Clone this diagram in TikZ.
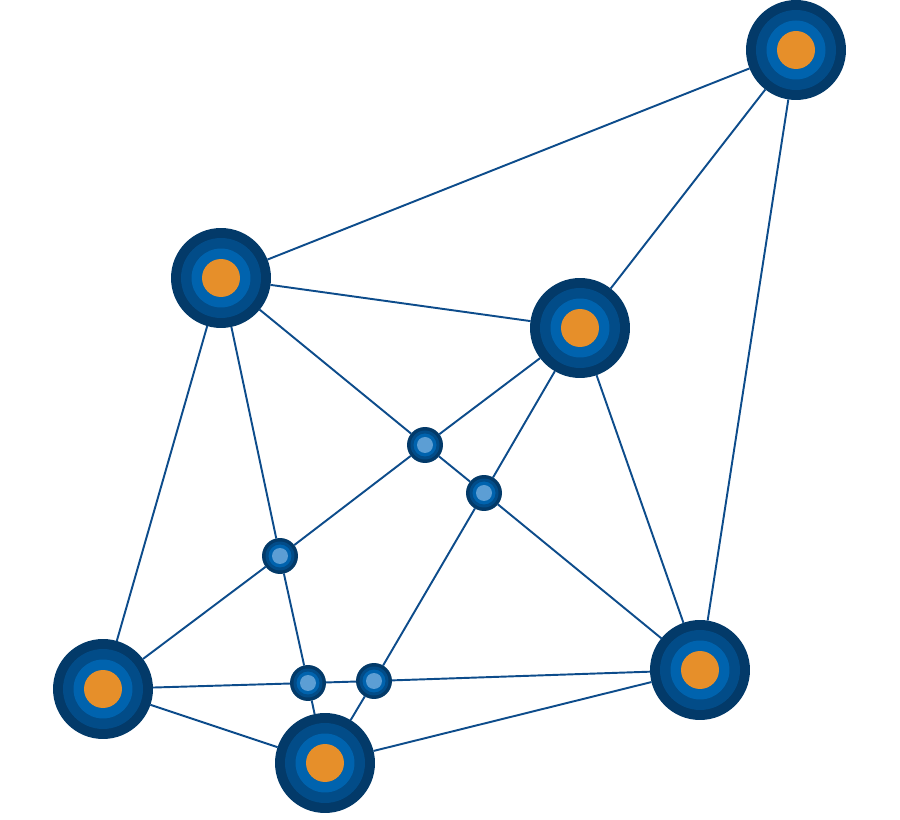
\documentclass[tikz,border=0pt]{standalone}
\usepackage{tikz}

\definecolor{ringA}{HTML}{033A69}
\definecolor{ringB}{HTML}{024C88}
\definecolor{ringC}{HTML}{0063AE}
\definecolor{hubcore}{HTML}{E68F2A}
\definecolor{dotcore}{HTML}{5C9ED4}
\definecolor{linkcol}{HTML}{0D4C8B}

\begin{document}
\begin{tikzpicture}[x=0.02cm, y=-0.02cm]
    \tikzstyle{link} = [linkcol, line width=1.1pt]
    \tikzstyle{hub} = [circle, inner sep=0pt, outer sep=0pt, minimum size=2cm, fill=ringA,
        path picture={
            \fill[ringB] (path picture bounding box.center) circle (0.8cm);
            \fill[ringC] (path picture bounding box.center) circle (0.59cm);
            \fill[hubcore] (path picture bounding box.center) circle (0.38cm);
        }]
    \tikzstyle{dot} = [circle, inner sep=0pt, outer sep=0pt, minimum size=0.72cm, fill=ringA,
        path picture={
            \fill[ringB] (path picture bounding box.center) circle (0.29cm);
            \fill[ringC] (path picture bounding box.center) circle (0.23cm);
            \fill[dotcore] (path picture bounding box.center) circle (0.16cm);
        }]
    \useasboundingbox (0,0) rectangle (900,820);

    % Big hubs
    \node [hub] (TopRight) at (796,50) {};
    \node [hub] (UpLeft) at (221,278) {};
    \node [hub] (UpMid) at (580,328) {};
    \node [hub] (LowLeft) at (103,689) {};
    \node [hub] (LowRight) at (700,670) {};
    \node [hub] (Bottom) at (325,763) {};

    % Small dots in between
    \node [dot] (DotA) at (425,445) {};
    \node [dot] (DotB) at (484,493) {};
    \node [dot] (DotC) at (280,556) {};
    \node [dot] (DotD) at (308,683) {};
    \node [dot] (DotE) at (374,681) {};

    % Links from the top right hub
    \draw [link] (TopRight) -- (UpLeft);
    \draw [link] (TopRight) -- (UpMid);
    \draw [link] (TopRight) -- (LowRight);

    % Links from the upper left hub
    \draw [link] (UpLeft) -- (UpMid);
    \draw [link] (UpLeft) -- (DotA);
    \draw [link] (UpLeft) -- (DotC);
    \draw [link] (UpLeft) -- (LowLeft);

    % Links from the upper middle hub
    \draw [link] (UpMid) -- (DotA);
    \draw [link] (UpMid) -- (DotB);
    \draw [link] (UpMid) -- (LowRight);

    % Links between the dots
    \draw [link] (DotA) -- (DotB);
    \draw [link] (DotA) -- (DotC);
    \draw [link] (DotB) -- (LowRight);
    \draw [link] (DotB) -- (DotE);
    \draw [link] (DotC) -- (LowLeft);
    \draw [link] (DotC) -- (DotD);
    \draw [link] (DotD) -- (DotE);

    % Links along the bottom
    \draw [link] (LowLeft) -- (DotD);
    \draw [link] (DotE) -- (LowRight);
    \draw [link] (LowLeft) -- (Bottom);
    \draw [link] (DotD) -- (Bottom);
    \draw [link] (DotE) -- (Bottom);
    \draw [link] (Bottom) -- (LowRight);
\end{tikzpicture}
\end{document}
